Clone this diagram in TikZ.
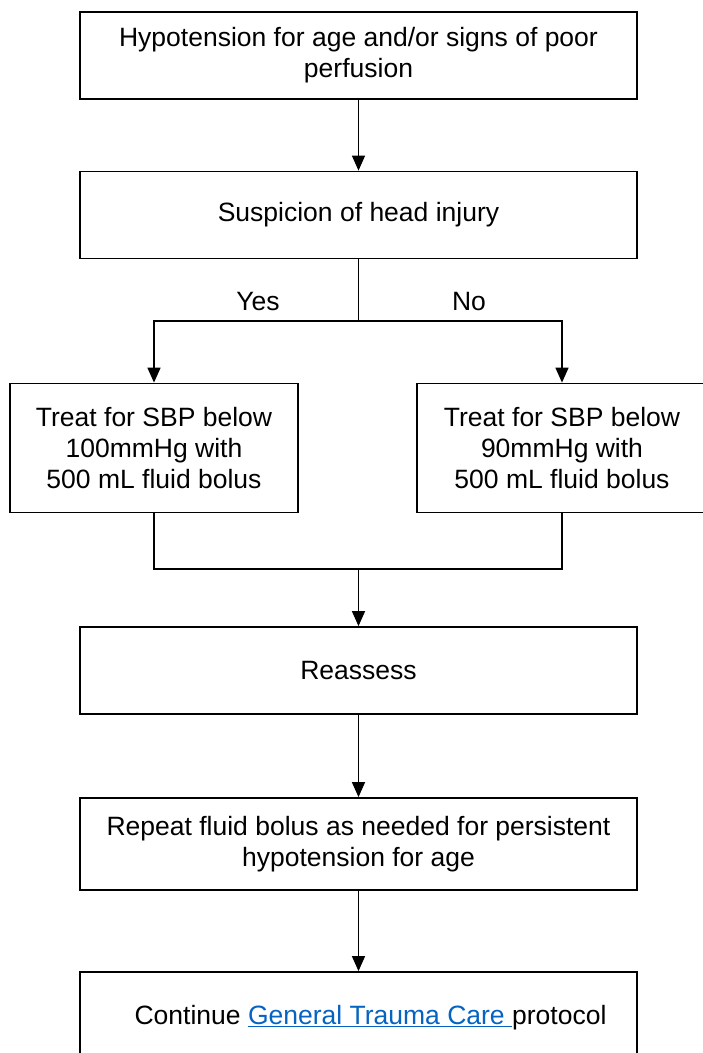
\documentclass[tikz,border=0pt]{standalone}
\usepackage{fontspec}
\setmainfont{Liberation Sans}
\usetikzlibrary{arrows.meta,positioning}
\definecolor{linkblue}{HTML}{0563C1}

\begin{document}
\begin{tikzpicture}[x=1pt,y=-1pt,
  box/.style={draw,line width=1.8pt,align=center,inner sep=4pt,font=\fontsize{26.5}{31}\selectfont,minimum width=557pt,minimum height=87pt},
  sidebox/.style={box,minimum width=288pt,minimum height=129pt},
  arrow/.style={-{Triangle[length=15pt,width=13pt]},line width=1.5pt},
  link/.style={line width=1.5pt},
  tag/.style={font=\fontsize{26.5}{31}\selectfont}
]
\useasboundingbox (0,0) rectangle (703,1053);
\clip (0,0) rectangle (703,1053);
\node[box] (start) at (358.5,55.5) {Hypotension for age and/or signs of poor\\perfusion};
\node[box] (head) at (358.5,215) {Suspicion of head injury};
\node[sidebox] (yesbox) at (154,448) {Treat for SBP below\\100mmHg with\\500 mL fluid bolus};
\node[sidebox,minimum width=296pt] (nobox) at (565,448) {\hspace*{-6pt}Treat for SBP below\\\hspace*{-6pt}90mmHg with\\\hspace*{-6pt}500 mL fluid bolus};
\node[box] (reassess) at (358.5,670.5) {Reassess};
\node[box,minimum height=92pt] (repeat) at (358.5,844) {Repeat fluid bolus as needed for persistent\\hypotension for age};
\node[box,minimum height=92pt] (cont) at (358.5,1018)
  {\hspace*{24pt}Continue \textcolor{linkblue}{\underline{General Trauma Care\ }}protocol};
% branch on head injury
\coordinate (split) at (358.5,321);
\coordinate (merge) at (358.5,569);
\node[tag] (yes) at (258,302) {Yes};
\node[tag] (no) at (469,302) {No};
\draw[arrow] (start) -- (head);
\draw[link] (head.south) -- (split);
\draw[arrow] (split) -| ([xshift=-3pt]nobox.north);
\draw[arrow] (split) -| (yesbox.north);
\draw[link] (yesbox.south) |- (merge) -| ([xshift=-3pt]nobox.south);
\draw[arrow] (merge) -- (reassess);
\draw[arrow] (reassess) -- (repeat);
\draw[arrow] (repeat) -- (cont);
\end{tikzpicture}
\end{document}
